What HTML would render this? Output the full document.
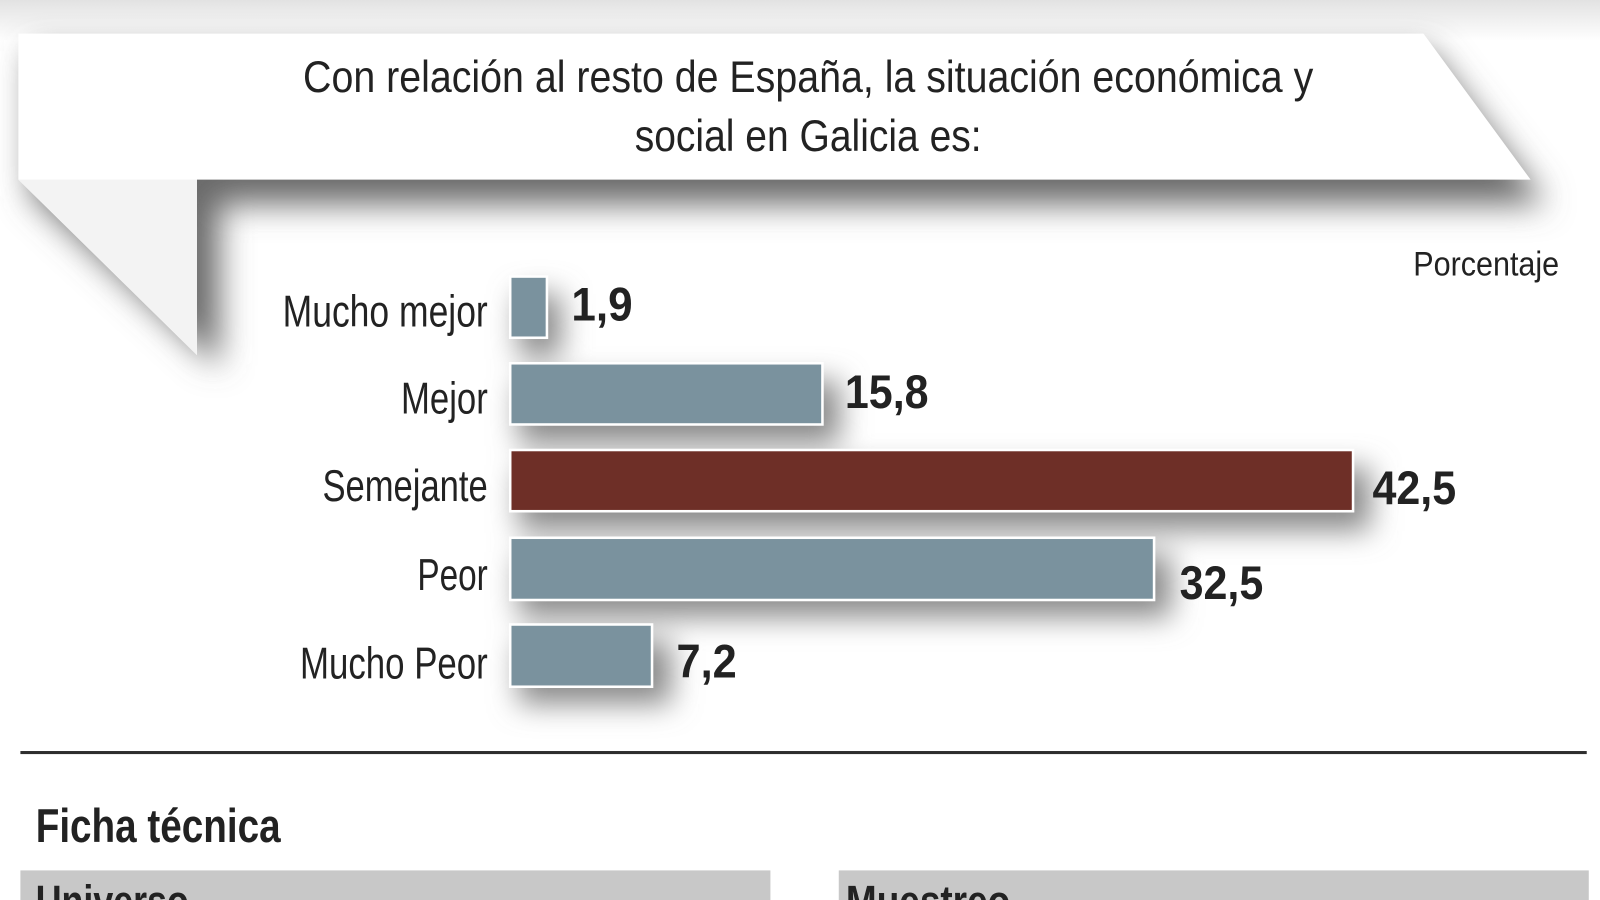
<!DOCTYPE html>
<html><head><meta charset="utf-8"><style>
html,body{margin:0;padding:0;background:#fff;}
svg{display:block;}
text{font-family:"Liberation Sans",sans-serif;fill:#222;}
</style></head><body>
<svg width="1600" height="900" viewBox="0 0 1568 882" xmlns="http://www.w3.org/2000/svg">
<defs>
<filter id="b1" x="-20%" y="-50%" width="140%" height="200%"><feGaussianBlur stdDeviation="16"/></filter>
<filter id="b2" x="-20%" y="-50%" width="140%" height="200%"><feGaussianBlur stdDeviation="14"/></filter>
<linearGradient id="top" x1="0" y1="0" x2="0" y2="1"><stop offset="0" stop-color="#e2e2e2"/><stop offset="1" stop-color="#fff"/></linearGradient>
</defs>
<rect width="1568" height="882" fill="#fff"/>
<rect x="0" y="0" width="1568" height="40" fill="url(#top)"/>
<g filter="url(#b1)" fill="#6a6a6a">
<polygon points="30,50 1400,50 1515,200 215,200 215,360 30,190"/>
</g>
<g filter="url(#b2)" fill="#8a8a8a">
<rect x="508" y="288" width="42" height="62"/>
<rect x="508" y="373" width="315" height="62"/>
<rect x="508" y="458" width="835" height="62"/>
<rect x="508" y="543" width="640" height="62"/>
<rect x="508" y="628" width="150" height="62"/>
</g>
<polygon points="18,33 1395,33 1500,176 193,176 193,348 18,176" fill="#fff"/>
<polygon points="18,176 193,176 193,348" fill="#f3f3f3"/>
<text x="792" y="90" font-size="44" text-anchor="middle" textLength="990" lengthAdjust="spacingAndGlyphs">Con relación al resto de España, la situación económica y</text>
<text x="792" y="148" font-size="44" text-anchor="middle" textLength="340" lengthAdjust="spacingAndGlyphs">social en Galicia es:</text>
<text x="1528" y="270" font-size="34" text-anchor="end" textLength="143" lengthAdjust="spacingAndGlyphs">Porcentaje</text>
<g stroke="#fff" stroke-width="2.5">
<rect x="500" y="271" width="36" height="60" fill="#7a929e"/>
<rect x="500" y="356" width="306" height="60" fill="#7a929e"/>
<rect x="500" y="441" width="826" height="60" fill="#6e2f27"/>
<rect x="500" y="527" width="631" height="61" fill="#7a929e"/>
<rect x="500" y="612" width="139" height="61" fill="#7a929e"/>
</g>
<g font-size="44" text-anchor="end">
<text x="478" y="320" textLength="201" lengthAdjust="spacingAndGlyphs">Mucho mejor</text>
<text x="478" y="405" textLength="85" lengthAdjust="spacingAndGlyphs">Mejor</text>
<text x="478" y="491" textLength="162" lengthAdjust="spacingAndGlyphs">Semejante</text>
<text x="478" y="578" textLength="69" lengthAdjust="spacingAndGlyphs">Peor</text>
<text x="478" y="665" textLength="184" lengthAdjust="spacingAndGlyphs">Mucho Peor</text>
</g>
<g font-size="46" font-weight="bold">
<text x="560" y="314" textLength="60" lengthAdjust="spacingAndGlyphs">1,9</text>
<text x="828" y="400" textLength="82" lengthAdjust="spacingAndGlyphs">15,8</text>
<text x="1345" y="494" textLength="82" lengthAdjust="spacingAndGlyphs">42,5</text>
<text x="1156" y="587" textLength="82" lengthAdjust="spacingAndGlyphs">32,5</text>
<text x="663" y="664" textLength="59" lengthAdjust="spacingAndGlyphs">7,2</text>
</g>
<rect x="20" y="736" width="1535" height="3" fill="#2e2e2e"/>
<text x="35" y="825" font-size="46" font-weight="bold" textLength="240" lengthAdjust="spacingAndGlyphs">Ficha técnica</text>
<rect x="20" y="853" width="735" height="40" fill="#c8c8c8"/>
<rect x="822" y="853" width="735" height="40" fill="#c8c8c8"/>
<text x="35" y="898" font-size="44" font-weight="bold" textLength="150" lengthAdjust="spacingAndGlyphs">Universo</text>
<text x="829" y="898" font-size="44" font-weight="bold" textLength="161" lengthAdjust="spacingAndGlyphs">Muestreo</text>
</svg>
</body></html>
